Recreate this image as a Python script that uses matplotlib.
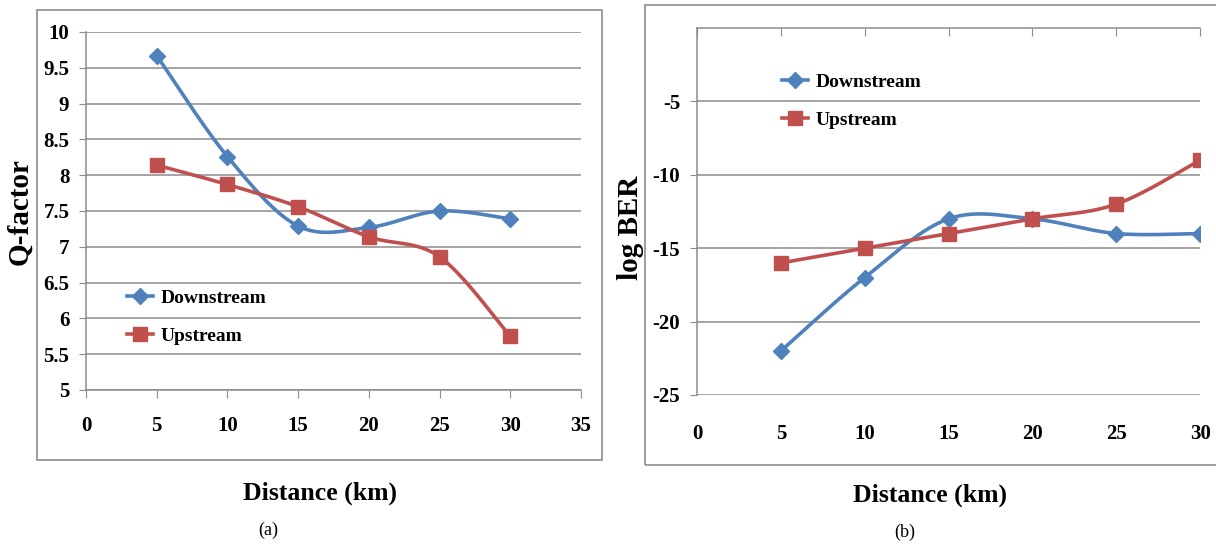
import numpy as np
import matplotlib.pyplot as plt
from matplotlib.lines import Line2D
from matplotlib.patches import Rectangle

# ---- data ----
distance = [5, 10, 15, 20, 25, 30]
q_down = [9.67, 8.26, 7.29, 7.27, 7.50, 7.39]
q_up = [8.14, 7.87, 7.56, 7.14, 6.86, 5.75]
ber_down = [-22, -17, -13, -13, -14, -14]
ber_up = [-16, -15, -14, -13, -12, -9]

q_ticks = [5, 5.5, 6, 6.5, 7, 7.5, 8, 8.5, 9, 9.5, 10]
ber_ticks = [-25, -20, -15, -10, -5]
xticks_a = [0, 5, 10, 15, 20, 25, 30, 35]
xticks_b = [0, 5, 10, 15, 20, 25, 30]

BLUE = '#4F81BD'
RED = '#C0504D'
GRAY = '#8c8c8c'

plt.rcParams['font.family'] = ['Liberation Serif', 'DejaVu Serif']


def smooth(x, y, n=40):
    # Catmull-Rom bezier through the points, like Excel's "smoothed line"
    p = np.column_stack([x, y]).astype(float)
    p = np.vstack([p[0], p, p[-1]])
    t = np.linspace(0, 1, n)[:, None]
    segs = []
    for i in range(1, len(p) - 2):
        p0, p1, p2, p3 = p[i - 1], p[i], p[i + 1], p[i + 2]
        c1 = p1 + (p2 - p0) / 6
        c2 = p2 - (p3 - p1) / 6
        segs.append((1 - t) ** 3 * p1 + 3 * (1 - t) ** 2 * t * c1
                    + 3 * (1 - t) * t ** 2 * c2 + t ** 3 * p2)
    s = np.vstack(segs)
    return s[:, 0], s[:, 1]


def draw_series(ax, x, y, color, marker, ms):
    sx, sy = smooth(x, y)
    ax.plot(sx, sy, color=color, lw=2.6, solid_capstyle='round', zorder=3)
    ax.plot(x, y, ls='none', marker=marker, ms=ms, color=color,
            markeredgecolor=color, zorder=4)


def legend_handles():
    return [Line2D([], [], color=BLUE, lw=2.6, marker='D', ms=8),
            Line2D([], [], color=RED, lw=2.6, marker='s', ms=10)]


fig = plt.figure(figsize=(12.16, 5.44), dpi=100)

# panel frames
fig.add_artist(Rectangle((0.0304, 0.1544), 0.4646, 0.8272, transform=fig.transFigure,
                         fill=False, edgecolor=GRAY, lw=1.2))
fig.add_artist(Rectangle((0.5304, 0.1452), 0.4720, 0.8456, transform=fig.transFigure,
                         fill=False, edgecolor=GRAY, lw=1.2))

tick_font = dict(fontsize=15, fontweight='bold')
leg_kw = dict(frameon=False, borderpad=0, borderaxespad=0, handlelength=1.35,
              handletextpad=0.4, labelspacing=1.05, prop=dict(size=14, weight='bold'))

# ---- (a) Q-factor ----
ax1 = fig.add_axes([0.0707, 0.2831, 0.4071, 0.6581])
draw_series(ax1, distance, q_down, BLUE, 'D', 8.5)
draw_series(ax1, distance, q_up, RED, 's', 10)
ax1.set_xlim(0, 35)
ax1.set_ylim(5, 10)
ax1.set_xticks(xticks_a)
ax1.set_yticks(q_ticks)
ax1.set_xticklabels([f'{v:g}' for v in xticks_a], **tick_font)
ax1.set_yticklabels([f'{v:g}' for v in q_ticks], **tick_font)
ax1.yaxis.grid(True, color=GRAY, lw=1.1)
ax1.set_axisbelow(True)
for s in ['top', 'right']:
    ax1.spines[s].set_visible(False)
for s in ['left', 'bottom']:
    ax1.spines[s].set_color(GRAY)
    ax1.spines[s].set_linewidth(1.1)
ax1.tick_params(axis='x', direction='out', length=6, color=GRAY, pad=13)
ax1.tick_params(axis='y', direction='out', length=5, color=GRAY, pad=7)
ax1.legend(handles=legend_handles(), labels=['Downstream', 'Upstream'],
           loc='upper left', bbox_to_anchor=(0.1044, 0.4688),
           bbox_transform=fig.transFigure, **leg_kw)

# ---- (b) log BER ----
ax2 = fig.add_axes([0.5732, 0.2739, 0.4137, 0.6746])
draw_series(ax2, distance, ber_down, BLUE, 'D', 8.5)
draw_series(ax2, distance, ber_up, RED, 's', 10)
ax2.set_xlim(0, 30)
ax2.set_ylim(-25, 0)
ax2.set_xticks(xticks_b)
ax2.set_yticks(ber_ticks)
ax2.set_xticklabels([f'{v:g}' for v in xticks_b], **tick_font)
ax2.set_yticklabels([f'{v:g}' for v in ber_ticks], **tick_font)
ax2.yaxis.grid(True, color=GRAY, lw=1.1)
ax2.set_axisbelow(True)
for s in ['bottom', 'right']:
    ax2.spines[s].set_visible(False)
for s in ['left', 'top']:
    ax2.spines[s].set_color(GRAY)
    ax2.spines[s].set_linewidth(1.1)
ax2.tick_params(axis='x', bottom=False, top=True, labelbottom=True,
                labeltop=False, direction='in', length=6, color=GRAY, pad=21)
ax2.tick_params(axis='y', direction='out', length=5, color=GRAY, pad=7)
ax2.legend(handles=legend_handles(), labels=['Downstream', 'Upstream'],
           loc='upper left', bbox_to_anchor=(0.6431, 0.8658),
           bbox_transform=fig.transFigure, **leg_kw)

# ---- axis titles and captions ----
fig.text(20 / 1216, 1 - 212 / 544, 'Q-factor', rotation=90, ha='center', va='center',
         fontsize=21, fontweight='bold')
fig.text(630 / 1216, 1 - 228 / 544, 'log BER', rotation=90, ha='center', va='center',
         fontsize=21, fontweight='bold')
fig.text(320 / 1216, 1 - 493 / 544, 'Distance (km)', ha='center', va='center',
         fontsize=18.5, fontweight='bold')
fig.text(930 / 1216, 1 - 495 / 544, 'Distance (km)', ha='center', va='center',
         fontsize=18.5, fontweight='bold')
fig.text(268 / 1216, 1 - 530 / 544, '(a)', ha='center', va='center', fontsize=13)
fig.text(905 / 1216, 1 - 532 / 544, '(b)', ha='center', va='center', fontsize=13)

fig.savefig('out.png', dpi=100)
